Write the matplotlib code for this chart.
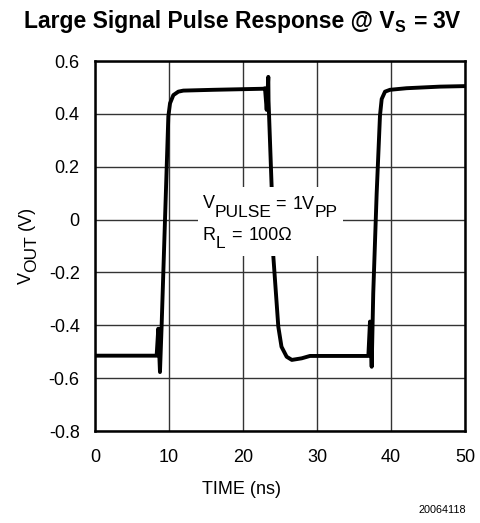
import matplotlib
matplotlib.use("Agg")
import matplotlib.pyplot as plt
from matplotlib.transforms import IdentityTransform, Affine2D
from matplotlib.patches import Rectangle

plt.rcParams['font.family'] = ['Liberation Sans', 'DejaVu Sans']

# Data
time_ns = [0.0, 8.33, 8.55, 8.78, 9.0, 9.46, 9.91, 10.14, 10.59, 11.26, 11.94, 16.0, 22.75,
           22.97, 23.2, 23.42, 23.45, 23.87, 24.1, 24.77, 25.2, 25.9, 26.6, 27.93, 29.05,
           33.0, 36.94, 37.16, 37.39, 37.6, 38.06, 38.51, 38.74, 39.19, 39.86,
           42.1, 46.6, 50.0]
vout_v = [-0.515, -0.515, -0.413, -0.577, -0.405, 0.0, 0.39, 0.44, 0.471, 0.484, 0.488, 0.491, 0.495,
          0.497, 0.415, 0.54, 0.45, 0.124, -0.14, -0.405, -0.481, -0.519, -0.531, -0.525, -0.516,
          -0.516, -0.516, -0.386, -0.557, -0.279, 0.097, 0.393, 0.456, 0.484, 0.491,
          0.497, 0.503, 0.505]

x_ticks = [0, 10, 20, 30, 40, 50]
y_ticks = [-0.8, -0.6, -0.4, -0.2, 0, 0.2, 0.4, 0.6]
y_tick_labels = ['-0.8', '-0.6', '-0.4', '-0.2', '0', '0.2', '0.4', '0.6']

# annotation box region (data units)
box_x = [13.9, 33.5]
box_y = [-0.138, 0.123]

W, H = 480, 523
fig = plt.figure(figsize=(W / 100, H / 100), dpi=100)
ax = fig.add_axes([95 / W, 1 - 431 / H, 370 / W, 370 / H])

ax.plot(time_ns, vout_v, color='black', lw=2.8, solid_joinstyle='round',
        solid_capstyle='round', zorder=3)

ax.add_patch(Rectangle((box_x[0], box_y[0]), box_x[1] - box_x[0], box_y[1] - box_y[0],
                       facecolor='white', edgecolor='none', zorder=4))

ax.set_xlim(0, 50)
ax.set_ylim(-0.8, 0.6)
ax.set_xticks(x_ticks)
ax.set_yticks(y_ticks)
ax.set_yticklabels(y_tick_labels)
ax.tick_params(length=0, labelsize=13, colors='black')
ax.tick_params(axis='x', pad=13)
ax.tick_params(axis='y', pad=11)
ax.grid(True, color='#333333', lw=1.0, zorder=1)
ax.set_axisbelow(True)
for s in ax.spines.values():
    s.set_linewidth(1.8)
    s.set_zorder(5)

fig.canvas.draw()
renderer = fig.canvas.get_renderer()


def rich_text(x, y, pieces, ha='left', rotation=0, weight='normal'):
    """pieces: (text, fontsize, drop_px, gap_px). x, y in pixels from top-left."""
    y_disp = H - y
    made = []
    total = 0.0
    for s, size, drop, gap in pieces:
        t = fig.text(0, 0, s, fontsize=size, fontweight=weight, ha='left',
                     va='baseline', transform=IdentityTransform())
        w = t.get_window_extent(renderer).width
        made.append((t, total + gap, drop))
        total += gap + w
    start = {'left': 0.0, 'center': -total / 2, 'right': -total}[ha]
    for t, adv, drop in made:
        if rotation == 90:
            tr = Affine2D().translate(x + drop, y_disp + start + adv)
            t.set_rotation(90)
            t.set_rotation_mode('anchor')
        else:
            tr = Affine2D().translate(x + start + adv, y_disp - drop)
        t.set_transform(tr)
        t.set_zorder(6)
    return made


# title
rich_text(242, 28.3, [('Large Signal Pulse Response @ V', 16.5, 0, 0),
                      ('S', 11.5, 3.5, 0.5),
                      ('=', 16.5, 0, 8), ('3V', 16.5, 0, 5)], ha='center', weight='bold')

# annotation
rich_text(203, 208.3, [('V', 13, 0, 0), ('PULSE', 12.5, 8.3, 0),
                       ('=', 13, 1, 3), ('1V', 13, 1, 7), ('PP', 12.5, 8.3, 0)])
rich_text(203, 240, [('R', 13, 0, 0), ('L', 12.5, 8.3, 0), ('=', 13, 0, 6),
                     ('100\u03a9', 13, 0, 6)])

# axis labels
rich_text(242, 494, [('TIME (ns)', 13, 0, 0)], ha='center')
rich_text(31, 245, [('V', 13, 0, 0), ('OUT', 12.5, 5, 0), ('(V)', 13, 0, 5)],
          ha='center', rotation=90)

fig.text(466 / W, 1 - 510 / H, '20064118', fontsize=7.8, ha='right', va='center')

fig.savefig('out.png', dpi=100, facecolor='white')
